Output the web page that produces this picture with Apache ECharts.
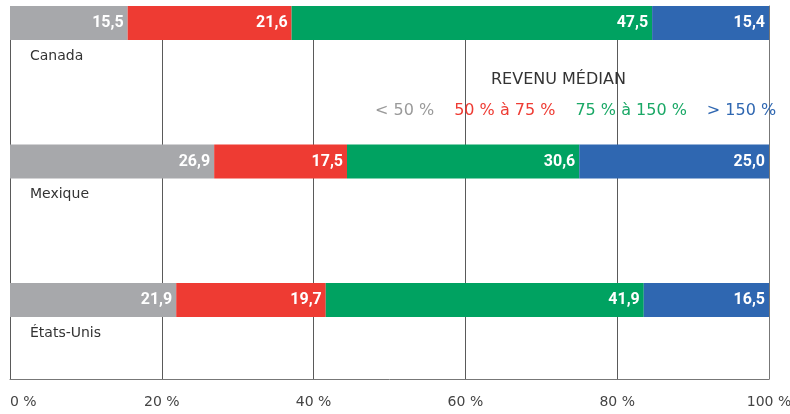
<!DOCTYPE html>
<html>
<head>
<meta charset="utf-8">
<script src="https://cdn.jsdelivr.net/npm/echarts@6/dist/echarts.min.js"></script>
<style>
  html, body { margin: 0; padding: 0; background: #fff; }
  #chart { width: 790px; height: 414px; }
</style>
</head>
<body>
<div id="chart"></div>
<script>
// données
const pays = ['Canada', 'Mexique', 'États-Unis']
const tranches = ['< 50 %', '50 % à 75 %', '75 % à 150 %', '> 150 %']
const moinsDe50 = [15.5, 26.9, 21.9]
const de50a75 = [21.6, 17.5, 19.7]
const de75a150 = [47.5, 30.6, 41.9]
const plusDe150 = [15.4, 25.0, 16.5]
const ticksX = [0, 20, 40, 60, 80, 100]

const couleurs = ['#a7a8ab', '#ee3b33', '#00a261', '#2f67b1']
const couleursTexte = ['#9a9a9a', '#ee3b33', '#1aa866', '#2f67b1']
const valeurs = [moinsDe50, de50a75, de75a150, plusDe150]
const police = '"DejaVu Sans", sans-serif'
const policeValeurs = 'Roboto, "Liberation Sans", sans-serif'

const chart = echarts.init(document.getElementById('chart'))

const series = tranches.map((nom, i) => ({
  name: nom,
  type: 'bar',
  stack: 'total',
  xAxisIndex: 0,
  yAxisIndex: 0,
  barWidth: 34,
  clip: false,
  itemStyle: { color: couleurs[i] },
  label: {
    show: true,
    position: 'insideRight',
    distance: 4,
    color: '#fff',
    fontWeight: 'bold',
    fontSize: 16,
    fontFamily: policeValeurs,
    formatter: p => p.value.toFixed(1).replace('.', ',')
  },
  data: valeurs[i]
}))

const option = {
  animation: false,
  title: {
    text: 'REVENU MÉDIAN',
    left: 486,
    top: 67,
    textStyle: { color: '#333', fontSize: 16, fontWeight: 'normal', fontFamily: police }
  },
  legend: {
    data: tranches.map((t, i) => ({ name: t, textStyle: { color: couleursTexte[i], fontSize: 16, fontFamily: police } })),
    left: 365,
    top: 98,
    icon: 'none',
    itemWidth: 0,
    itemHeight: 0,
    itemGap: 15,
    selectedMode: false,
    textStyle: { fontSize: 16, fontFamily: police }
  },
  grid: [
    { left: 10, right: 21, top: 23, bottom: 114, outerBoundsMode: 'none' },
    { left: 10, right: 21, top: 6, bottom: 35, outerBoundsMode: 'none' }
  ],
  xAxis: [
    { gridIndex: 0, type: 'value', min: 0, max: 100, show: false },
    {
      gridIndex: 1,
      type: 'value',
      min: ticksX[0],
      max: ticksX[ticksX.length - 1],
      interval: 20,
      axisLine: { show: true, lineStyle: { color: '#777', width: 1 } },
      axisTick: { show: false },
      splitLine: {
        show: true,
        showMinLine: true,
        showMaxLine: true,
        lineStyle: { color: '#5a5a5a', width: 1 }
      },
      axisLabel: {
        color: '#444',
        fontSize: 14,
        fontFamily: police,
        margin: 16,
        alignMinLabel: 'left',
        formatter: v => v + ' %'
      }
    }
  ],
  yAxis: [
    {
      gridIndex: 0,
      type: 'category',
      data: pays,
      inverse: true,
      boundaryGap: false,
      axisLine: { show: false },
      axisTick: { show: false },
      splitLine: { show: false },
      axisLabel: {
        inside: true,
        margin: 20,
        align: 'left',
        verticalAlign: 'top',
        padding: [26, 0, 0, 0],
        color: '#333',
        fontSize: 14,
        fontFamily: police
      }
    },
    {
      gridIndex: 1,
      type: 'value',
      position: 'right',
      min: 0,
      max: 1,
      axisLine: { show: true, onZero: false, lineStyle: { color: '#777', width: 1 } },
      axisTick: { show: false },
      axisLabel: { show: false },
      splitLine: { show: false }
    }
  ],
  series: series
}

chart.setOption(option)
</script>
</body>
</html>
